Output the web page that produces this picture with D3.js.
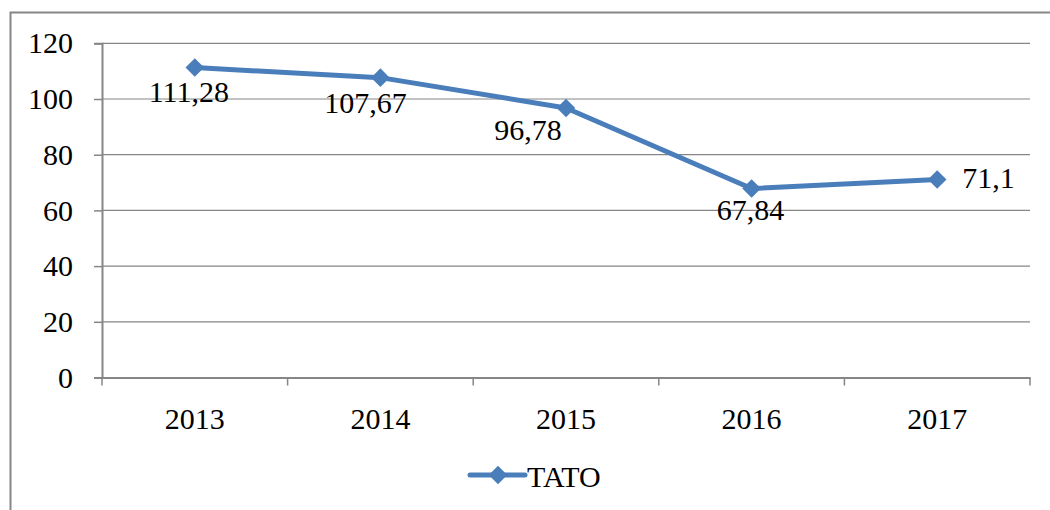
<!DOCTYPE html>
<html>
<head>
<meta charset="utf-8">
<script src="https://cdn.jsdelivr.net/npm/d3@7"></script>
</head>
<body style="margin:0;background:#fff">
<svg id="chart" width="1050" height="510"></svg>
<script>
// data
const years = ['2013', '2014', '2015', '2016', '2017'];
const tato = [111.28, 107.67, 96.78, 67.84, 71.1];
const labels = ['111,28', '107,67', '96,78', '67,84', '71,1'];
const yTicks = [0, 20, 40, 60, 80, 100, 120];
const seriesName = 'TATO';

const blue = '#4a7ebb';
const grey = '#868686';
const serif = 'Liberation Serif';

const svg = d3.select('#chart');

// outer chart border (runs off the right/bottom edge)
svg.append('rect')
  .attr('x', 10.5).attr('y', 12.5)
  .attr('width', 1100).attr('height', 560)
  .attr('fill', 'none').attr('stroke', grey).attr('stroke-width', 2);

const plot = { left: 102, right: 1030, top: 43.3, bottom: 377.5 };

const x = d3.scaleBand().domain(years).range([plot.left, plot.right]);
const y = d3.scaleLinear().domain([0, 120]).range([plot.bottom, plot.top]);

// gridlines
svg.append('g')
  .selectAll('line')
  .data(yTicks.filter(d => d > 0))
  .join('line')
  .attr('x1', plot.left).attr('x2', plot.right)
  .attr('y1', d => y(d)).attr('y2', d => y(d))
  .attr('stroke', grey).attr('stroke-width', 1.2);

// y axis
const yAxis = svg.append('g')
  .attr('transform', `translate(${plot.left},0)`)
  .call(d3.axisLeft(y).tickValues(yTicks).tickSize(8).tickPadding(21));
yAxis.select('.domain').attr('stroke', grey).attr('stroke-width', 2);
yAxis.selectAll('.tick line').attr('stroke', grey).attr('stroke-width', 1.5);
yAxis.selectAll('.tick text')
  .style('font-family', serif).style('font-size', '30px').attr('fill', '#000');

// x axis with ticks on category boundaries
const xAxis = svg.append('g')
  .attr('transform', `translate(0,${plot.bottom})`)
  .call(d3.axisBottom(x).tickSize(0).tickPadding(30));
xAxis.select('.domain').attr('stroke', grey).attr('stroke-width', 2);
xAxis.selectAll('.tick text')
  .style('font-family', serif).style('font-size', '30px').attr('fill', '#000');
const bounds = years.map(d => x(d)).concat([x(years[years.length - 1]) + x.bandwidth()]);
xAxis.selectAll('line.bound')
  .data(bounds)
  .join('line')
  .attr('class', 'bound')
  .attr('x1', d => d).attr('x2', d => d)
  .attr('y1', 0).attr('y2', 8)
  .attr('stroke', grey).attr('stroke-width', 1.5);

// series line
const cx = d => x(d) + x.bandwidth() / 2;
const line = d3.line().x((d, i) => cx(years[i])).y(d => y(d));
svg.append('path')
  .datum(tato)
  .attr('d', line)
  .attr('fill', 'none')
  .attr('stroke', blue)
  .attr('stroke-width', 5)
  .attr('stroke-linejoin', 'round')
  .attr('stroke-linecap', 'round');

const diamond = d3.symbol().type(d3.symbolDiamond2).size(220);
svg.append('g')
  .selectAll('path')
  .data(tato)
  .join('path')
  .attr('d', diamond)
  .attr('transform', (d, i) => `translate(${cx(years[i])},${y(d)})`)
  .attr('fill', blue);

// data labels (manually placed as in the original)
const labelOffsets = [[-6, 34, 'middle'], [-15, 35, 'middle'], [-38, 32, 'middle'], [-1, 31, 'middle'], [25, 9, 'start']];
svg.append('g')
  .selectAll('text')
  .data(tato)
  .join('text')
  .attr('x', (d, i) => cx(years[i]) + labelOffsets[i][0])
  .attr('y', (d, i) => y(d) + labelOffsets[i][1])
  .attr('text-anchor', (d, i) => labelOffsets[i][2])
  .style('font-family', serif).style('font-size', '30px')
  .text((d, i) => labels[i]);

// legend
const lg = svg.append('g').attr('transform', 'translate(470,475)');
lg.append('line')
  .attr('x1', 0).attr('x2', 55)
  .attr('stroke', blue).attr('stroke-width', 5).attr('stroke-linecap', 'round');
lg.append('path')
  .attr('d', diamond)
  .attr('transform', 'translate(28,0)')
  .attr('fill', blue);
lg.append('text')
  .attr('x', 57).attr('y', 12)
  .style('font-family', serif).style('font-size', '30px')
  .text(seriesName);
</script>
</body>
</html>
